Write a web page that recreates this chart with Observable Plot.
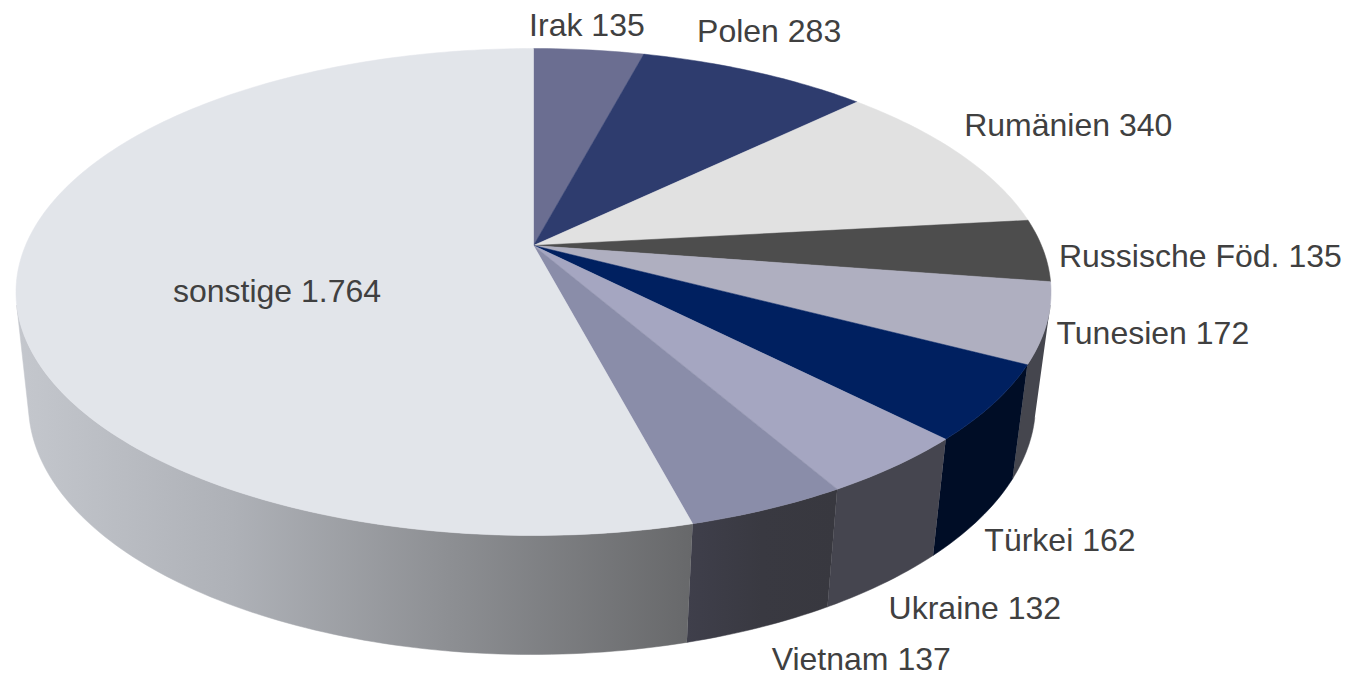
<!DOCTYPE html>
<html>
<head>
<meta charset="utf-8">
<script src="https://cdn.jsdelivr.net/npm/d3@7"></script>
<script src="https://cdn.jsdelivr.net/npm/@observablehq/plot@0.6"></script>
<style>
html,body{margin:0;padding:0;background:#fff;overflow:hidden}
svg{display:block}
</style>
</head>
<body>
<div id="chart"></div>
<script>
// --- data (clockwise from 12 o'clock) ---
const categories = ["Irak","Polen","Rumänien","Russische Föd.","Tunesien","Türkei","Ukraine","Vietnam","sonstige"];
const values = [135,283,340,135,172,162,132,137,1764];
const topColors = ["#6b6e91","#2e3c6e","#e1e1e1","#4d4d4d","#afafc0","#002060","#a5a6c1","#8a8da9","#e2e5ea"];
const sideColors = [null,null,null,null,"#45464e","#000d26","#45454f","url(#sideVietnam)","url(#sideSonstige)"];
// label nudges from the slice's rim midpoint
const labelDx = [-2,14,109,157,106,66,79,93,260];
const labelDy = [-24,-40,-28,6,11,138,143,151,15];

// --- 3D pie geometry ---
const W = 1347, H = 674;
const apex = {x:533, y:245}, persp = 0.191, radX = 508, radY = 234.6;
const topCy = 291, topRx = 518, topRy = 243, botCx = 531.5, botCy = 403, botRx = 504, botRy = 250;
const silhouette = [104.1, 256]; // degrees where the rim's side wall turns out of sight

const top3d = deg => {
  const t = deg*Math.PI/180, u = Math.sin(t), v = Math.cos(t), d = 1+persp*v;
  return {x: apex.x+radX*u/d, y: apex.y-radY*v/d};
};
const bot3d = deg => {
  const p = top3d(deg);
  return {x: botCx+(p.x-apex.x)*botRx/topRx, y: botCy+(p.y-topCy)*botRy/topRy};
};
const arc = (a,b,f) => {
  const n = Math.max(2,Math.ceil(Math.abs(b-a))), out = [];
  for (let i=0;i<=n;i++) out.push(f(a+(b-a)*i/n));
  return out;
};

const total = d3.sum(values);
let acc = 0;
const slices = values.map((v,i)=>{
  const a0 = acc/total*360; acc += v; const a1 = acc/total*360;
  return {name:categories[i], value:v, a0, a1, mid:(a0+a1)/2, top:topColors[i], side:sideColors[i]};
});

const fmt = d3.formatLocale({decimal:",",thousands:".",grouping:[3],currency:["","€"]}).format(",d");
const labels = slices.map((s,i)=>{
  const p = top3d(s.mid);
  return {x:p.x+labelDx[i], y:p.y+labelDy[i], text:`${s.name} ${fmt(s.value)}`};
});

const sideMarks = slices.filter(s=>s.side).map(s=>{
  const a0 = Math.max(s.a0,silhouette[0]), a1 = Math.min(s.a1,silhouette[1]);
  const poly = [...arc(a0,a1,top3d), ...arc(a1,a0,bot3d)];
  return Plot.line(poly,{x:"x",y:"y",fill:s.side,stroke:s.side,strokeWidth:0.5});
});
const topMarks = slices.map(s=>{
  const poly = [apex, ...arc(s.a0,s.a1,top3d), apex];
  return Plot.line(poly,{x:"x",y:"y",fill:s.top,stroke:s.top,strokeWidth:0.5});
});

const defs = () => {
  const g = d3.create("svg:g"), d = g.append("defs");
  const grad = (id,stops) => {
    const l = d.append("linearGradient").attr("id",id).attr("x1",0).attr("x2",1).attr("y1",0).attr("y2",0);
    stops.forEach(([o,c])=>l.append("stop").attr("offset",o).attr("stop-color",c));
  };
  grad("sideSonstige",[[0,"#c4c7cd"],[0.32,"#aeb1b7"],[0.64,"#8d8f93"],[1,"#67686a"]]);
  grad("sideVietnam",[[0,"#3f3f4b"],[0.5,"#393941"],[1,"#38383f"]]);
  return g.node();
};

const chart = Plot.plot({
  width:W, height:H, margin:0,
  style:{background:"transparent"},
  x:{domain:[0,W],range:[0,W],axis:null},
  y:{domain:[0,H],range:[0,H],axis:null},
  marks:[
    defs,
    ...sideMarks,
    ...topMarks,
    Plot.text(labels,{x:"x",y:"y",text:"text",fontSize:32,fontFamily:"Liberation Sans, Arial, sans-serif",fill:"#404040",textAnchor:"middle"})
  ]
});
document.getElementById("chart").appendChild(chart);
</script>
</body>
</html>
